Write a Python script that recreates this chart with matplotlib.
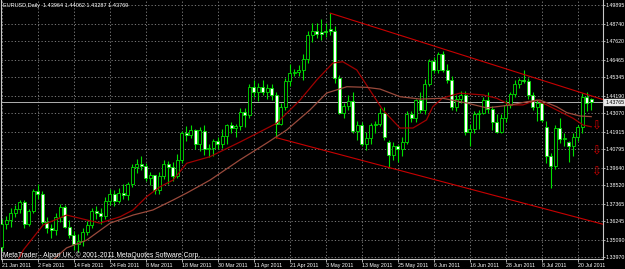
import matplotlib.pyplot as plt
from matplotlib.transforms import blended_transform_factory

# EURUSD daily bars, 21 Jan 2011 .. 25 Jul 2011 (bar index = position)
opens = [1.3460, 1.3610, 1.3635, 1.3680, 1.3705, 1.3745, 1.3605, 1.3690, 1.3815, 1.3800,
         1.3620, 1.3580, 1.3570, 1.3650, 1.3715, 1.3590, 1.3535, 1.3480, 1.3500, 1.3555,
         1.3600, 1.3690, 1.3675, 1.3655, 1.3750, 1.3800, 1.3755, 1.3805, 1.3790, 1.3860,
         1.3965, 1.3985, 1.3975, 1.3900, 1.3915, 1.3820, 1.3910, 1.3985, 1.3965, 1.3910,
         1.4010, 1.4180, 1.4170, 1.4200, 1.4115, 1.4195, 1.4080, 1.4090, 1.4130, 1.4110,
         1.4165, 1.4230, 1.4215, 1.4225, 1.4315, 1.4295, 1.4475, 1.4440, 1.4475, 1.4440,
         1.4470, 1.4420, 1.4240, 1.4345, 1.4510, 1.4560, 1.4570, 1.4580, 1.4650, 1.4800,
         1.4830, 1.4820, 1.4830, 1.4840, 1.4830, 1.4530, 1.4310, 1.4355, 1.4385, 1.4195,
         1.4235, 1.4115, 1.4150, 1.4230, 1.4240, 1.4310, 1.4125, 1.4045, 1.4100, 1.4080,
         1.4125, 1.4300, 1.4280, 1.4390, 1.4325, 1.4495, 1.4635, 1.4580, 1.4680, 1.4580,
         1.4520, 1.4345, 1.4395, 1.4420, 1.4190, 1.4210, 1.4300, 1.4310, 1.4390, 1.4335,
         1.4255, 1.4190, 1.4280, 1.4360, 1.4430, 1.4490, 1.4515, 1.4510, 1.4420, 1.4345,
         1.4370, 1.4220, 1.4040, 1.3975, 1.4215, 1.4145, 1.4125, 1.4100, 1.4155, 1.4220,
         1.4410, 1.43964]
highs = [1.3637, 1.3655, 1.3710, 1.3730, 1.3760, 1.3760, 1.3700, 1.3830, 1.3860, 1.3815,
         1.3650, 1.3610, 1.3680, 1.3735, 1.3730, 1.3630, 1.3565, 1.3545, 1.3580, 1.3625,
         1.3710, 1.3720, 1.3710, 1.3780, 1.3830, 1.3820, 1.3835, 1.3860, 1.3870, 1.3985,
         1.4020, 1.4035, 1.3990, 1.3935, 1.3920, 1.3935, 1.4010, 1.4005, 1.4000, 1.4050,
         1.4195, 1.4225, 1.4230, 1.4210, 1.4220, 1.4230, 1.4115, 1.4145, 1.4160, 1.4210,
         1.4240, 1.4250, 1.4240, 1.4340, 1.4340, 1.4490, 1.4520, 1.4500, 1.4520, 1.4490,
         1.4490, 1.4440, 1.4370, 1.4530, 1.4620, 1.4590, 1.4610, 1.4680, 1.4830, 1.4880,
         1.4880, 1.4900, 1.4880, 1.4940, 1.4860, 1.4550, 1.4375, 1.4425, 1.4440, 1.4260,
         1.4250, 1.4190, 1.4245, 1.4260, 1.4340, 1.4345, 1.4140, 1.4125, 1.4110, 1.4160,
         1.4320, 1.4320, 1.4400, 1.4440, 1.4525, 1.4650, 1.4660, 1.4695, 1.4700, 1.4620,
         1.4540, 1.4420, 1.4450, 1.4445, 1.4240, 1.4320, 1.4330, 1.4410, 1.4440, 1.4350,
         1.4300, 1.4300, 1.4390, 1.4440, 1.4520, 1.4530, 1.4580, 1.4530, 1.4440, 1.4390,
         1.4380, 1.4260, 1.4055, 1.4230, 1.4280, 1.4180, 1.4135, 1.4180, 1.4230, 1.4435,
         1.4440, 1.44062]
lows = [1.3436, 1.3575, 1.3590, 1.3650, 1.3680, 1.3580, 1.3595, 1.3680, 1.3765, 1.3605,
        1.3550, 1.3520, 1.3540, 1.3620, 1.3580, 1.3520, 1.3445, 1.3430, 1.3470, 1.3540,
        1.3580, 1.3640, 1.3610, 1.3640, 1.3730, 1.3720, 1.3740, 1.3765, 1.3760, 1.3840,
        1.3930, 1.3950, 1.3880, 1.3855, 1.3795, 1.3800, 1.3890, 1.3860, 1.3880, 1.3900,
        1.3990, 1.4130, 1.4150, 1.4080, 1.4070, 1.4045, 1.4030, 1.4040, 1.4080, 1.4090,
        1.4110, 1.4180, 1.4160, 1.4200, 1.4220, 1.4280, 1.4410, 1.4385, 1.4425, 1.4400,
        1.4390, 1.4153, 1.4230, 1.4330, 1.4480, 1.4540, 1.4540, 1.4520, 1.4625, 1.4760,
        1.4780, 1.4770, 1.4790, 1.4800, 1.4500, 1.4300, 1.4280, 1.4330, 1.4180, 1.4140,
        1.4100, 1.4075, 1.4110, 1.4180, 1.4225, 1.4140, 1.3965, 1.4010, 1.4000, 1.4040,
        1.4110, 1.4255, 1.4250, 1.4310, 1.4300, 1.4480, 1.4560, 1.4560, 1.4570, 1.4500,
        1.4330, 1.4320, 1.4370, 1.4170, 1.4100, 1.4180, 1.4210, 1.4300, 1.4310, 1.4200,
        1.4180, 1.4180, 1.4250, 1.4340, 1.4410, 1.4470, 1.4500, 1.4395, 1.4325, 1.4260,
        1.4250, 1.3990, 1.3836, 1.3955, 1.4120, 1.4100, 1.4000, 1.4040, 1.4130, 1.4180,
        1.4320, 1.43287]
closes = [1.3610, 1.3635, 1.3680, 1.3705, 1.3745, 1.3605, 1.3690, 1.3815, 1.3800, 1.3620,
          1.3580, 1.3570, 1.3650, 1.3715, 1.3590, 1.3535, 1.3480, 1.3500, 1.3555, 1.3600,
          1.3690, 1.3675, 1.3655, 1.3750, 1.3800, 1.3755, 1.3805, 1.3790, 1.3860, 1.3965,
          1.3985, 1.3975, 1.3900, 1.3915, 1.3820, 1.3910, 1.3985, 1.3965, 1.3910, 1.4010,
          1.4180, 1.4170, 1.4200, 1.4115, 1.4200, 1.4080, 1.4090, 1.4130, 1.4110, 1.4165,
          1.4230, 1.4215, 1.4225, 1.4315, 1.4295, 1.4475, 1.4440, 1.4475, 1.4440, 1.4470,
          1.4425, 1.4240, 1.4345, 1.4510, 1.4560, 1.4570, 1.4580, 1.4650, 1.4800, 1.4830,
          1.4810, 1.4810, 1.4820, 1.4830, 1.4530, 1.4310, 1.4355, 1.4385, 1.4195, 1.4235,
          1.4115, 1.4150, 1.4230, 1.4240, 1.4310, 1.4155, 1.4045, 1.4100, 1.4080, 1.4125,
          1.4300, 1.4280, 1.4390, 1.4325, 1.4495, 1.4635, 1.4580, 1.4680, 1.4580, 1.4520,
          1.4345, 1.4395, 1.4420, 1.4190, 1.4210, 1.4305, 1.4310, 1.4390, 1.4335, 1.4255,
          1.4190, 1.4280, 1.4360, 1.4430, 1.4490, 1.4515, 1.4510, 1.4420, 1.4345, 1.4370,
          1.4265, 1.4040, 1.3975, 1.4215, 1.4145, 1.4150, 1.4100, 1.4155, 1.4220, 1.4410,
          1.4375, 1.43769]

# moving averages (bar position, price)
ma_fast_x = [3.5, 4.8, 9.2, 14.4, 18.9, 21.8, 26.3, 29.2, 32.2, 35.2, 38.1, 41.1, 46.3,
             53, 61.1, 66.3, 70, 73.6, 75.8, 78.9, 81.8, 84.7, 88.5, 91.4, 94.4, 95.8,
             98, 101.8, 107, 110, 113, 115.8, 118.9, 121.1, 124.1, 127, 129.2, 131]
ma_fast_y = [1.3370, 1.3443, 1.3601, 1.3664, 1.3633, 1.3613, 1.3653, 1.3696, 1.3780,
             1.3843, 1.3885, 1.3991, 1.4033, 1.4126, 1.4244, 1.4391, 1.4517, 1.4625,
             1.4633, 1.4581, 1.4454, 1.4328, 1.4214, 1.4214, 1.4265, 1.4349, 1.4404,
             1.4434, 1.4423, 1.4402, 1.4360, 1.4360, 1.4391, 1.4360, 1.4317, 1.4275,
             1.4233, 1.4222]
ma_slow_x = [11, 14.4, 18.9, 24.1, 29.2, 33.6, 38.1, 41.1, 46.3, 52.9, 58.9, 63.3, 68.5,
             72.2, 76.7, 81.1, 84.1, 88.5, 93, 98, 103.3, 107.8, 113, 116.7, 119.6,
             123.3, 125.6, 128.5, 131]
ma_slow_y = [1.3370, 1.3456, 1.3506, 1.3613, 1.3664, 1.3696, 1.3759, 1.3803, 1.3885,
             1.4012, 1.4119, 1.4201, 1.4328, 1.4435, 1.4475, 1.4471, 1.4460, 1.4412,
             1.4397, 1.4402, 1.4372, 1.4341, 1.4359, 1.4380, 1.4391, 1.4349, 1.4311,
             1.4290, 1.4286]

# trend lines (bar position, price)
upper_line_x = [73, 133.6]
upper_line_y = [1.4940, 1.4394]
lower_line_x = [61, 133.6]
lower_line_y = [1.4153, 1.3606]

alert_x = [132.1, 132.1, 132.1]
alert_y = [1.4226, 1.4068, 1.3935]

bid = 1.43765
price_ticks = [1.49895, 1.48740, 1.47620, 1.46465, 1.45345, 1.44190, 1.43070, 1.41915,
               1.40795, 1.39640, 1.38520, 1.37365, 1.36245, 1.35090, 1.33970]
date_labels = ['21 Jan 2011', '2 Feb 2011', '14 Feb 2011', '24 Feb 2011', '8 Mar 2011',
               '18 Mar 2011', '30 Mar 2011', '11 Apr 2011', '21 Apr 2011', '3 May 2011',
               '13 May 2011', '25 May 2011', '6 Jun 2011', '16 Jun 2011', '28 Jun 2011',
               '8 Jul 2011', '20 Jul 2011']
date_pos = [0, 8, 16, 24, 32, 40, 48, 56, 64, 72, 80, 88, 96, 104, 112, 120, 128]

plt.rcParams['font.family'] = ['Liberation Sans', 'DejaVu Sans']
LBL = 3.8
GREEN = '#00e000'
GRID = '#8a8a8a'
FRAME = '#c8c8c8'

W, H = 625, 269
fig = plt.figure(figsize=(W / 100, H / 100), dpi=100)
fig.patch.set_facecolor('black')
ax = fig.add_axes([1 / W, 10 / H, 602 / W, 259 / H])
ax.set_facecolor('black')

ax.set_xlim(-0.156, 133.62)
ax.set_ylim(1.33862, 1.50230)

# grid
for p in price_ticks:
    ax.axhline(p, color=GRID, lw=0.6, ls=(0, (1.5, 2.5)), zorder=0)
for d in date_pos:
    ax.axvline(d, color=GRID, lw=0.6, ls=(0, (1.5, 2.5)), zorder=0)

# candles
n = len(opens)
xs = list(range(n))
ax.vlines(xs, lows, highs, color=GREEN, lw=0.8, zorder=2)
bottoms = [min(o, c) for o, c in zip(opens, closes)]
heights = [max(abs(c - o), 0.00012) for o, c in zip(opens, closes)]
fills = ['black' if c >= o else 'white' for o, c in zip(opens, closes)]
ax.bar(xs, heights, bottom=bottoms, width=0.62, color=fills, edgecolor=GREEN,
       linewidth=0.6, zorder=3)

# moving averages
ax.plot(ma_fast_x, ma_fast_y, color='#a00000', lw=0.9, zorder=4)
ax.plot(ma_slow_x, ma_slow_y, color='#9a4a3c', lw=0.9, zorder=4)

# trend lines
ax.plot(upper_line_x, upper_line_y, color='#c80000', lw=0.8, zorder=4)
ax.plot(lower_line_x, lower_line_y, color='#c80000', lw=0.8, zorder=4)

# bid line
ax.axhline(bid, color='#b0b0b0', lw=0.7, zorder=1)

# alert arrows
for x, y in zip(alert_x, alert_y):
    ax.text(x, y, '\u21e9', color='#d00000', fontsize=8.5, ha='center', va='center',
            family=['DejaVu Sans'], zorder=5)

# frame
for s in ['left', 'right', 'bottom']:
    ax.spines[s].set_color(FRAME)
    ax.spines[s].set_linewidth(0.8)
ax.spines['top'].set_visible(False)

# price scale
ax.yaxis.tick_right()
ax.set_yticks(price_ticks)
ax.set_yticklabels([f'{p:.5f}' for p in price_ticks])
ax.tick_params(axis='y', colors=FRAME, length=1.5, width=0.6, pad=0.6, labelsize=LBL,
               labelcolor='white')

# time scale
ax.set_xticks(date_pos)
ax.set_xticklabels(date_labels, ha='left')
ax.tick_params(axis='x', colors=FRAME, length=2, width=0.6, pad=1.2, labelsize=LBL,
               labelcolor='white')

# current price box
tr = blended_transform_factory(ax.transAxes, ax.transData)
ax.text(1.0035, bid, f'{bid:.5f}', transform=tr, fontsize=LBL,
        color='black', va='center', ha='left',
        bbox=dict(facecolor='#e8e8e8', edgecolor='#e8e8e8', pad=0.5))

# header and copyright
fig.text(3 / W, 1 - 6 / H, 'EURUSD,Daily  1.43964 1.44062 1.43287 1.43769',
         color='white', fontsize=4.0, va='center', ha='left')
fig.text(3 / W, 1 - 255 / H, 'MetaTrader - Alpari UK, \u00a9 2001-2011 MetaQuotes Software Corp.',
         color='white', fontsize=4.9, va='center', ha='left')

fig.savefig('out.png', dpi=100, facecolor='black')
